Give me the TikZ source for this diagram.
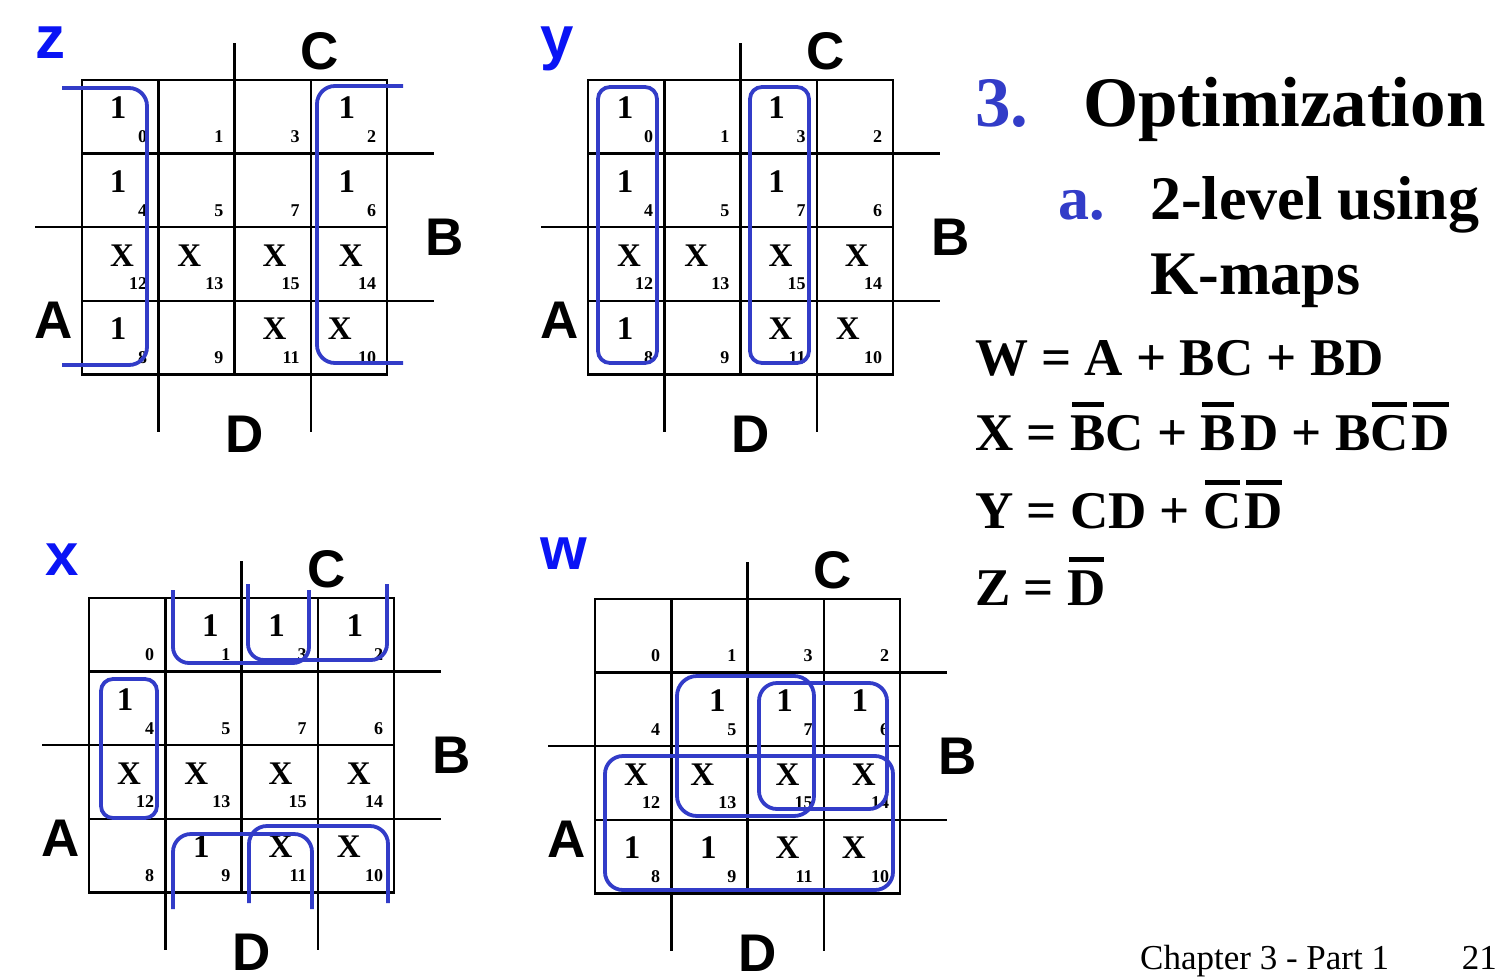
\documentclass[tikz,border=0pt]{standalone}
\usepackage{fontspec}
\setmainfont{Liberation Serif}
\newfontfamily\arialf{Liberation Sans}
\definecolor{loopblue}{RGB}{50,60,200}
\definecolor{fblue}{RGB}{10,20,245}
\definecolor{hblue}{RGB}{50,60,200}
\def\cw{76.3}
\def\ch{73.6}
\newcommand\ob[1]{\sbox0{#1}\rlap{\kern0.03em\raisebox{0.81em}{\rule{\dimexpr\wd0-0.06em\relax}{0.095em}}}\box0}
\newcommand\kgrid[1]{%
  \draw[gridline] (0,0) rectangle (4*\cw,4*\ch);
  \foreach \k in {1,2,3} {\draw[gridline] (\k*\cw,0) -- (\k*\cw,4*\ch);
                          \draw[gridline] (0,\k*\ch) -- (4*\cw,\k*\ch);}
  \draw[gridline] (2*\cw,-37) -- (2*\cw,0);
  \draw[gridline] (4*\cw,\ch) -- (4*\cw+47,\ch);
  \draw[gridline] (4*\cw,3*\ch) -- (4*\cw+47,3*\ch);
  \draw[gridline] (-47,2*\ch) -- (0,2*\ch);
  \draw[gridline] (\cw,4*\ch) -- (\cw,4*\ch+58);
  \draw[gridline] (3*\cw,4*\ch) -- (3*\cw,4*\ch+58);
  \node[axis] (#1C) at (238,-11) {C};
  \node[axis] (#1B) at (363,175) {B};
  \node[axis] (#1A) at (-28,258) {A};
  \node[axis] (#1D) at (163,372) {D};
  \foreach \n [count=\i from 0] in {0,1,3,2,4,5,7,6,12,13,15,14,8,9,11,10} {
    \pgfmathtruncatemacro\cc{mod(\i,4)}
    \pgfmathtruncatemacro\rr{div(\i,4)}
    \node[num] (#1n\n) at ({(\cc+1)*\cw-11},{(\rr+1)*\ch-11}) {\n};
  }
}
\newcommand\kv[5]{\node[val] (#1v#2#3) at ({#2*\cw+#4},{#3*\ch+28}) {#5};}
\begin{document}
\begin{tikzpicture}[x=1pt,y=-1pt,
  gridline/.style={line width=2.5pt,black},
  kloop/.style={line width=3.8pt,loopblue},
  val/.style={font=\fontsize{33}{36}\selectfont\bfseries,inner sep=0},
  num/.style={font=\fontsize{18}{20}\selectfont\bfseries,inner sep=0,anchor=base east},
  axis/.style={font=\arialf\fontsize{53}{60}\selectfont\bfseries,inner sep=0,anchor=base},
  fname/.style={font=\arialf\fontsize{60}{66}\selectfont\bfseries,text=fblue,inner sep=0,anchor=base west},
  rtext/.style={inner sep=0,anchor=base west}]
\useasboundingbox (0,0) rectangle (1508,980);
\fill[white] (0,0) rectangle (1508,980);

% ---- map z
\begin{scope}[shift={(82,80)}]
\kgrid{z}
\kv{z}{0}{0}{36}{1}\kv{z}{3}{0}{36}{1}
\kv{z}{0}{1}{36}{1}\kv{z}{3}{1}{36}{1}
\kv{z}{0}{2}{40}{X}\kv{z}{1}{2}{31}{X}\kv{z}{2}{2}{40}{X}\kv{z}{3}{2}{40}{X}
\kv{z}{0}{3}{36}{1}\kv{z}{2}{3}{40}{X}\kv{z}{3}{3}{29}{X}
\end{scope}
% ---- map y
\begin{scope}[shift={(588,80)}]
\kgrid{y}
\kv{y}{0}{0}{37}{1}\kv{y}{2}{0}{36}{1}
\kv{y}{0}{1}{37}{1}\kv{y}{2}{1}{36}{1}
\kv{y}{0}{2}{41}{X}\kv{y}{1}{2}{32}{X}\kv{y}{2}{2}{40}{X}\kv{y}{3}{2}{40}{X}
\kv{y}{0}{3}{37}{1}\kv{y}{2}{3}{40}{X}\kv{y}{3}{3}{31}{X}
\end{scope}
% ---- map x
\begin{scope}[shift={(89,598)}]
\kgrid{x}
\kv{x}{1}{0}{45}{1}\kv{x}{2}{0}{35}{1}\kv{x}{3}{0}{37}{1}
\kv{x}{0}{1}{36}{1}
\kv{x}{0}{2}{40}{X}\kv{x}{1}{2}{31}{X}\kv{x}{2}{2}{39}{X}\kv{x}{3}{2}{41}{X}
\kv{x}{1}{3}{36}{1}\kv{x}{2}{3}{39}{X}\kv{x}{3}{3}{31}{X}
\end{scope}
% ---- map w
\begin{scope}[shift={(595,599)}]
\kgrid{w}
\kv{w}{1}{1}{46}{1}\kv{w}{2}{1}{37}{1}\kv{w}{3}{1}{36}{1}
\kv{w}{0}{2}{41}{X}\kv{w}{1}{2}{31}{X}\kv{w}{2}{2}{40}{X}\kv{w}{3}{2}{40}{X}
\kv{w}{0}{3}{37}{1}\kv{w}{1}{3}{37}{1}\kv{w}{2}{3}{40}{X}\kv{w}{3}{3}{30}{X}
\end{scope}

% ---- function names
\node[fname] (fz) at (35,58) {z};
\node[fname] (fy) at (540,58) {y};
\node[fname] (fx) at (45,575) {x};
\node[fname] (fw) at (540,569) {w};

% ---- loops
\draw[kloop,rounded corners=18] (62,88) -- (147,88) -- (147,365) -- (62,365);
\draw[kloop,rounded corners=18] (403,86) -- (317,86) -- (317,363) -- (403,363);
\draw[kloop,rounded corners=12] (598,87) rectangle (657,363);
\draw[kloop,rounded corners=12] (750,87) rectangle (809,363);
\draw[kloop,rounded corners=16] (173,590) -- (173,663) -- (309,663) -- (309,590);
\draw[kloop,rounded corners=16] (248,584) -- (248,660) -- (387,660) -- (387,584);
\draw[kloop,rounded corners=12] (101,679) rectangle (157,818);
\draw[kloop,rounded corners=18] (173,909) -- (173,834) -- (312,834) -- (312,909);
\draw[kloop,rounded corners=18] (249,903) -- (249,826) -- (388,826) -- (388,903);
\draw[kloop,rounded corners=20] (677,676) rectangle (814,816);
\draw[kloop,rounded corners=18] (759,683) rectangle (887,809);
\draw[kloop,rounded corners=18] (605,756) rectangle (893,890);

% ---- right text
\node[rtext,text=hblue,font=\fontsize{71}{80}\selectfont\bfseries] (n3) at (975,126) {3.};
\node[rtext,font=\fontsize{71}{80}\selectfont\bfseries] (t1) at (1083,126) {Optimization};
\node[rtext,text=hblue,font=\fontsize{62}{70}\selectfont\bfseries] (na) at (1058,219) {a.};
\node[rtext,font=\fontsize{62}{70}\selectfont\bfseries] (t2) at (1150,219) {2-level using};
\node[rtext,font=\fontsize{62}{70}\selectfont\bfseries] (t3) at (1150,294) {K-maps};
\node[rtext,font=\fontsize{53}{60}\selectfont\bfseries] (eW) at (975,375) {W = A + BC + BD};
\node[rtext,font=\fontsize{53}{60}\selectfont\bfseries] (eX) at (975,450) {X = \ob{B}C + \ob{B}\kern0.08em D + B\ob{C}\kern0.06em\ob{D}};
\node[rtext,font=\fontsize{53}{60}\selectfont\bfseries] (eY) at (975,528) {Y = CD + \ob{C}\kern0.06em\ob{D}};
\node[rtext,font=\fontsize{53}{60}\selectfont\bfseries] (eZ) at (975,605) {Z = \ob{D}};
\node[rtext,font=\fontsize{35}{40}\selectfont] (ft) at (1140,969) {Chapter 3 - Part 1};
\node[inner sep=0,anchor=base east,font=\fontsize{35}{40}\selectfont] (pg) at (1497,969) {21};
\end{tikzpicture}
\end{document}
